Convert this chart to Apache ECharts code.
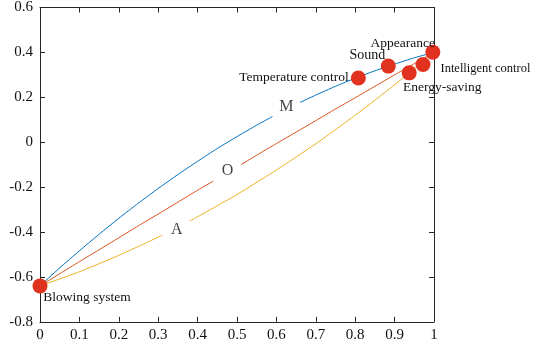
<!DOCTYPE html>
<html>
<head>
<meta charset="utf-8">
<script src="https://cdn.jsdelivr.net/npm/echarts@6/dist/echarts.min.js"></script>
<style>html,body{margin:0;padding:0;background:#fff}#c{width:535px;height:345px}</style>
</head>
<body>
<div id="c"></div>
<script>
// Curve M (blue)
const mX = [0, 0.05, 0.1, 0.15, 0.2, 0.25, 0.3, 0.35, 0.4, 0.45, 0.5, 0.55, 0.59, null, 0.66, 0.7, 0.75, 0.8, 0.85, 0.9, 0.95, 1.0];
const mY = [-0.64, -0.560, -0.484, -0.410, -0.339, -0.271, -0.206, -0.144, -0.085, -0.028, 0.025, 0.076, 0.114, null, 0.177, 0.210, 0.249, 0.285, 0.318, 0.348, 0.376, 0.40];
// Curve O (orange)
const oX = [0, 0.05, 0.1, 0.15, 0.2, 0.25, 0.3, 0.35, 0.4, 0.44, null, 0.51, 0.55, 0.6, 0.65, 0.7, 0.75, 0.8, 0.85, 0.9, 0.95, 1.0];
const oY = [-0.64, -0.586, -0.532, -0.479, -0.426, -0.372, -0.320, -0.267, -0.214, -0.173, null, -0.100, -0.058, -0.006, 0.045, 0.096, 0.148, 0.198, 0.249, 0.300, 0.350, 0.40];
// Curve A (yellow)
const aX = [0, 0.05, 0.1, 0.15, 0.2, 0.25, 0.3, 0.31, null, 0.38, 0.4, 0.45, 0.5, 0.55, 0.6, 0.65, 0.7, 0.75, 0.8, 0.85, 0.9, 0.95, 1.0];
const aY = [-0.64, -0.609, -0.577, -0.541, -0.504, -0.464, -0.423, -0.414, null, -0.351, -0.332, -0.283, -0.233, -0.179, -0.124, -0.066, -0.007, 0.056, 0.120, 0.187, 0.256, 0.327, 0.40];
// Named points
const pointNames = ['Blowing system', 'Temperature control', 'Sound', 'Appearance', 'Intelligent control', 'Energy-saving'];
const pointX = [0, 0.808, 0.884, 0.997, 0.972, 0.937];
const pointY = [-0.64, 0.286, 0.339, 0.401, 0.346, 0.309];
// Curve labels
const curveNames = ['M', 'O', 'A'];
const curveLabelX = [0.625, 0.476, 0.347];
const curveLabelY = [0.156, -0.129, -0.388];

const FONT = 'Liberation Serif';
const labelStyle = {
  'Blowing system': {position: 'bottom', offset: [47, -8], fontSize: 13.5},
  'Temperature control': {position: 'left', offset: [3, -1], fontSize: 13.5},
  'Sound': {position: 'top', offset: [-21, 9], fontSize: 14},
  'Appearance': {position: 'top', offset: [-30, 11], fontSize: 13.5},
  'Intelligent control': {position: 'right', offset: [5, 4], fontSize: 12.5},
  'Energy-saving': {position: 'bottom', offset: [33, -5], fontSize: 13.5}
};

function pairs(xs, ys) {
  return xs.map((x, i) => (x === null || ys[i] === null) ? '-' : [x, ys[i]]);
}
function fmt(v) { const r = Math.round(v * 10) / 10; return r === 0 ? '0' : String(r); }

const axisCommon = {
  axisLine: {show: true, onZero: false, lineStyle: {color: '#262626', width: 1}},
  axisTick: {show: true, inside: true, length: 5, lineStyle: {color: '#262626'}},
  splitLine: {show: false}
};

const chart = echarts.init(document.getElementById('c'));
chart.setOption({
  animation: false,
  backgroundColor: '#fff',
  textStyle: {fontFamily: FONT},
  grid: {left: 40, right: 101, top: 7.5, bottom: 23.2, containLabel: false},
  xAxis: [
    Object.assign({type: 'value', min: 0, max: 1, interval: 0.1, position: 'bottom',
      axisLabel: {formatter: fmt, color: '#111', fontSize: 15, fontFamily: FONT, margin: 6}}, axisCommon),
    Object.assign({type: 'value', min: 0, max: 1, interval: 0.1, position: 'top',
      axisLabel: {show: false}}, axisCommon)
  ],
  yAxis: [
    Object.assign({type: 'value', min: -0.8, max: 0.6, interval: 0.2, position: 'left',
      axisLabel: {formatter: fmt, color: '#111', fontSize: 15, fontFamily: FONT, margin: 7}}, axisCommon),
    Object.assign({type: 'value', min: -0.8, max: 0.6, interval: 0.2, position: 'right',
      axisLabel: {show: false}}, axisCommon)
  ],
  series: [
    {type: 'line', data: pairs(mX, mY), showSymbol: false, smooth: 0.2, connectNulls: false,
      lineStyle: {color: '#0072BD', width: 1}, z: 2},
    {type: 'line', data: pairs(oX, oY), showSymbol: false, smooth: 0.2, connectNulls: false,
      lineStyle: {color: '#D95319', width: 1}, z: 2},
    {type: 'line', data: pairs(aX, aY), showSymbol: false, smooth: 0.2, connectNulls: false,
      lineStyle: {color: '#EDB120', width: 1}, z: 2},
    {type: 'scatter', symbol: 'circle', symbolSize: 0,
      data: curveNames.map((n, i) => ({name: n, value: [curveLabelX[i], curveLabelY[i]]})),
      label: {show: true, position: 'inside', formatter: p => p.name, color: '#111', fontSize: 16, fontFamily: FONT},
      z: 3},
    {type: 'scatter', symbol: 'circle', symbolSize: 15,
      itemStyle: {color: '#E0321F', opacity: 1},
      data: pointNames.map((n, i) => ({
        name: n, value: [pointX[i], pointY[i]],
        label: Object.assign({show: true, formatter: n, color: '#111', fontFamily: FONT}, labelStyle[n])
      })),
      z: 5}
  ]
});
</script>
</body>
</html>
